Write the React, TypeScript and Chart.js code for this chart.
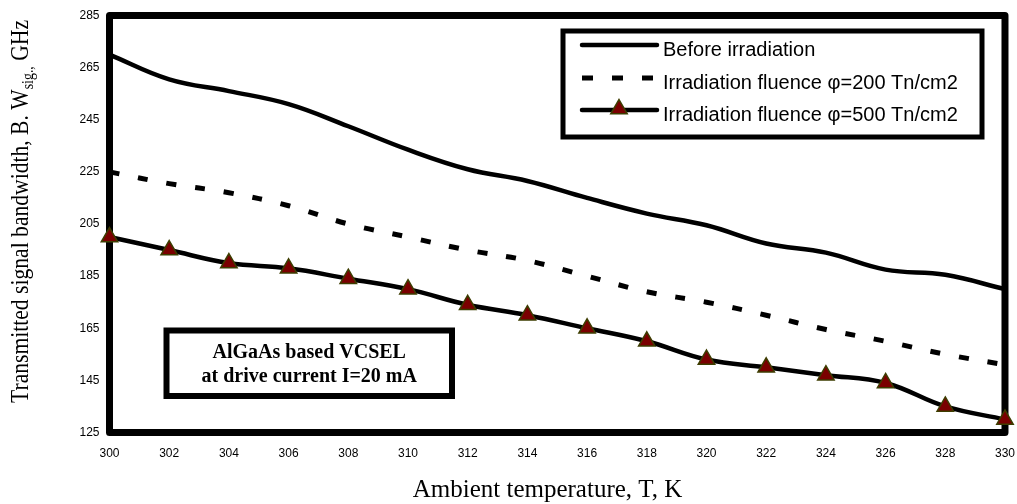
import React, { useEffect, useRef } from "react";
import { Chart, registerables } from "chart.js";

Chart.register(...registerables);

const temperatures = [300, 302, 304, 306, 308, 310, 312, 314, 316, 318, 320, 322, 324, 326, 328, 330];
const beforeIrradiation = [270, 260.5, 256, 251, 242.5, 233.5, 226, 221.5, 215, 209, 204.5, 197.5, 194, 187.5, 185.5, 180];
const fluence200 = [225, 220.5, 217, 212, 205, 200, 195, 191, 185, 179, 175, 170, 164.5, 160, 155, 151];
const fluence500 = [200, 195, 190, 188, 184, 180, 174, 170, 165, 160, 153, 150, 147, 144, 135, 130];
const yTickValues = [125, 145, 165, 185, 205, 225, 245, 265, 285];
const seriesLabels = [
  "Before irradiation",
  "Irradiation fluence \u03c6=200 Tn/cm2",
  "Irradiation fluence \u03c6=500 Tn/cm2",
];
const annotationLines = ["AlGaAs based VCSEL", "at drive current I=20 mA"];
const xTitle = "Ambient temperature, T, K";
const yTitleMain = "Transmitted signal bandwidth, B. W";
const yTitleSub = "sig.,";
const yTitleEnd = " GHz";

const SERIF = "'Liberation Serif', 'Times New Roman', serif";
const SANS = "'Liberation Sans', Arial, sans-serif";
const MARKER_FILL = "#7a0000";
const MARKER_EDGE = "#3d3d00";

const pts = (ys: number[]) => temperatures.map((t, i) => ({ x: t, y: ys[i] }));

function drawTriangle(ctx: CanvasRenderingContext2D, x: number, y: number, r: number) {
  ctx.save();
  ctx.beginPath();
  let rad = 0;
  ctx.moveTo(x + Math.sin(rad) * r, y - Math.cos(rad) * r);
  rad += (2 * Math.PI) / 3;
  ctx.lineTo(x + Math.sin(rad) * r, y - Math.cos(rad) * r);
  rad += (2 * Math.PI) / 3;
  ctx.lineTo(x + Math.sin(rad) * r, y - Math.cos(rad) * r);
  ctx.closePath();
  ctx.fillStyle = MARKER_FILL;
  ctx.fill();
  ctx.lineWidth = 1.5;
  ctx.strokeStyle = MARKER_EDGE;
  ctx.stroke();
  ctx.restore();
}

const decorPlugin = {
  id: "decor",
  beforeDatasetsDraw(chart: any) {
    const { ctx, chartArea } = chart;
    ctx.save();
    ctx.lineWidth = 7;
    ctx.strokeStyle = "#000";
    ctx.lineJoin = "round";
    ctx.strokeRect(chartArea.left, chartArea.top, chartArea.right - chartArea.left, chartArea.bottom - chartArea.top);
    ctx.restore();
  },
  afterDatasetsDraw(chart: any) {
    const { ctx } = chart;
    ctx.save();

    // Legend box
    const lx = 563, ly = 31, lw = 419, lh = 106;
    ctx.fillStyle = "#fff";
    ctx.fillRect(lx, ly, lw, lh);
    ctx.lineWidth = 5;
    ctx.strokeStyle = "#000";
    ctx.strokeRect(lx, ly, lw, lh);
    const rows = [45, 78, 110];
    chart.data.datasets.forEach((ds: any, i: number) => {
      const y = rows[i];
      ctx.save();
      ctx.beginPath();
      ctx.lineWidth = ds.borderWidth;
      ctx.strokeStyle = "#000";
      if (ds.borderDash) {
        ctx.setLineDash([11, 19]);
        ctx.lineCap = "butt";
        ctx.moveTo(582, y);
        ctx.lineTo(660, y);
      } else {
        ctx.lineCap = "round";
        ctx.moveTo(582, y);
        ctx.lineTo(657, y);
      }
      ctx.stroke();
      ctx.restore();
      if (ds.pointRadius > 0) drawTriangle(ctx, 619, y - 1, ds.pointRadius);
      ctx.fillStyle = "#000";
      ctx.font = `20px ${SANS}`;
      ctx.textBaseline = "alphabetic";
      ctx.textAlign = "left";
      ctx.fillText(ds.label, 663, y + 11);
    });

    // Annotation box
    const ax = 166.5, ay = 330.5, aw = 285.5, ah = 65.5;
    ctx.fillStyle = "#fff";
    ctx.fillRect(ax, ay, aw, ah);
    ctx.lineWidth = 6;
    ctx.strokeStyle = "#000";
    ctx.strokeRect(ax, ay, aw, ah);
    ctx.fillStyle = "#000";
    ctx.font = `bold 20px ${SERIF}`;
    ctx.textAlign = "center";
    ctx.textBaseline = "alphabetic";
    ctx.fillText(annotationLines[0], ax + aw / 2, 358);
    ctx.fillText(annotationLines[1], ax + aw / 2, 382);

    // X title
    ctx.font = `25px ${SERIF}`;
    ctx.fillText(xTitle, 547.5, 497);

    // Y title (rotated, with subscript), compressed to the reference length
    ctx.save();
    ctx.translate(28, 211.5);
    ctx.rotate(-Math.PI / 2);
    ctx.textAlign = "left";
    ctx.textBaseline = "alphabetic";
    const mainFont = `25px ${SERIF}`;
    const subFont = `16px ${SERIF}`;
    ctx.font = mainFont;
    const w1 = ctx.measureText(yTitleMain).width;
    const w3 = ctx.measureText(yTitleEnd).width;
    ctx.font = subFont;
    const w2 = ctx.measureText(yTitleSub).width;
    const total = w1 + w2 + w3;
    const targetLen = 383;
    const k = targetLen / total;
    ctx.scale(k, 1);
    let x = -total / 2;
    ctx.font = mainFont;
    ctx.fillText(yTitleMain, x, 0);
    x += w1;
    ctx.font = subFont;
    ctx.fillText(yTitleSub, x, 5);
    x += w2;
    ctx.font = mainFont;
    ctx.fillText(yTitleEnd, x, 0);
    ctx.restore();

    ctx.restore();
  },
};

export default function App() {
  const canvasRef = useRef<HTMLCanvasElement | null>(null);

  useEffect(() => {
    if (!canvasRef.current) return;
    const chart = new Chart(canvasRef.current, {
      type: "line",
      data: {
        datasets: [
          {
            label: seriesLabels[0],
            data: pts(beforeIrradiation),
            borderColor: "#000",
            borderWidth: 4.5,
            pointRadius: 0,
            tension: 0.4,
            fill: false,
            clip: false as any,
          },
          {
            label: seriesLabels[1],
            data: pts(fluence200),
            borderColor: "#000",
            borderWidth: 5,
            borderDash: [10, 19],
            pointRadius: 0,
            tension: 0.4,
            fill: false,
            clip: false as any,
          },
          {
            label: seriesLabels[2],
            data: pts(fluence500),
            borderColor: "#000",
            borderWidth: 4.5,
            pointRadius: 9.5,
            pointStyle: "triangle",
            pointBackgroundColor: MARKER_FILL,
            pointBorderColor: MARKER_EDGE,
            pointBorderWidth: 1.5,
            tension: 0.4,
            fill: false,
            clip: false as any,
          },
        ],
      },
      options: {
        animation: false,
        responsive: false,
        devicePixelRatio: 1,
        layout: { padding: { top: 15.5, right: 12, left: 0, bottom: 0 } },
        plugins: {
          legend: { display: false },
          tooltip: { enabled: false },
        },
        scales: {
          x: {
            type: "linear",
            min: 300,
            max: 330,
            afterFit: (scale: any) => {
              scale.height = 71.5;
            },
            afterBuildTicks: (scale: any) => {
              scale.ticks = temperatures.map((v) => ({ value: v }));
            },
            grid: {
              display: true,
              drawOnChartArea: false,
              drawTicks: true,
              tickLength: 12,
              tickColor: "rgba(0,0,0,0)",
            },
            border: { display: false },
            ticks: {
              padding: 2,
              color: "#000",
              maxRotation: 0,
              autoSkip: false,
              font: { family: SANS, size: 12 },
            },
          },
          y: {
            type: "linear",
            min: 125,
            max: 285,
            afterFit: (scale: any) => {
              scale.width = 109.5;
            },
            afterBuildTicks: (scale: any) => {
              scale.ticks = yTickValues.map((v) => ({ value: v }));
            },
            grid: {
              display: true,
              drawOnChartArea: false,
              drawTicks: true,
              tickLength: 9,
              tickColor: "rgba(0,0,0,0)",
            },
            border: { display: false },
            ticks: {
              padding: 1,
              color: "#000",
              autoSkip: false,
              font: { family: SANS, size: 12 },
            },
          },
        },
      },
      plugins: [decorPlugin],
    });
    return () => chart.destroy();
  }, []);

  return (
    <div style={{ position: "fixed", left: 0, top: 0, width: 1017, height: 504, background: "#fff" }}>
      <canvas ref={canvasRef} width={1017} height={504} />
    </div>
  );
}
